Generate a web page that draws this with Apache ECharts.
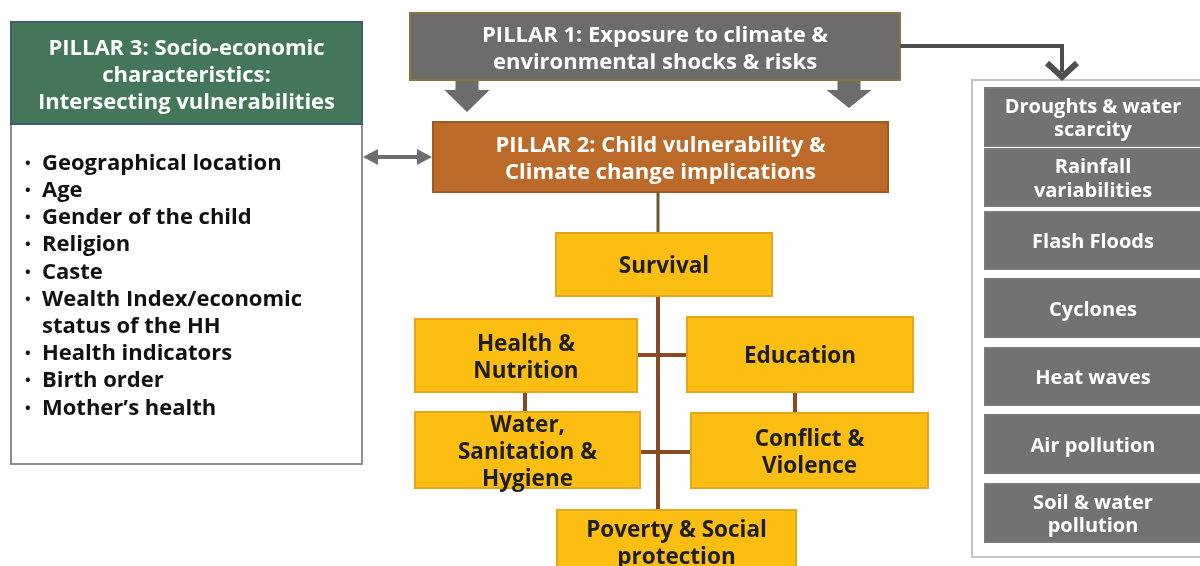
<!DOCTYPE html>
<html><head><meta charset="utf-8">
<script src="https://cdn.jsdelivr.net/npm/echarts@6/dist/echarts.min.js"></script>
<style>html,body{margin:0;padding:0;background:#fff}#c{width:1200px;height:566px}</style>
</head><body><div id="c"></div>
<script>
// ---- text content (data) ----
const pillarTitles = [
  'PILLAR 1: Exposure to climate &\nenvironmental shocks & risks',
  'PILLAR 2: Child vulnerability &\nClimate change implications',
  'PILLAR 3: Socio-economic\ncharacteristics:\nIntersecting vulnerabilities'
];
const socioFactors = ['Geographical location','Age','Gender of the child','Religion','Caste',
  'Wealth Index/economic\nstatus of the HH','Health indicators','Birth order','Mother\u2019s health'];
const childDomains = ['Survival','Health &\nNutrition','Education','Water,\nSanitation &\nHygiene','Conflict &\nViolence','Poverty & Social\nprotection'];
const hazards = ['Droughts & water\nscarcity','Rainfall\nvariabilities','Flash Floods','Cyclones','Heat waves','Air pollution','Soil & water\npollution'];

// ---- layout (diagram space, same units as canvas) ----
const pillarLayout = [[410,13,490,67],[433,122,455,70],[11,22,351,102]];
const pillarFill = ['#6E6B6B','#BC6A29','#44765A'];
const pillarStroke = ['#8A7642','#A35B24','#3E5E78'];
const domainLayout = [[556,233,216,63],[415,319,222,73],[687,317,226,75],[415,412,225,76],[691,413,237,75],[557,510,239,64]];
const hazardTop = [88,149,212,279,348,415,484];
const hazardBottom = [146,206,269,337,405,473,542];
const connectors = [[658,296,658,510],[637,355,687,355],[640,452,691,452],[525,392,525,412],[795,392,795,413]];

const FONT = '"Open Sans", "Noto Sans", sans-serif';

function boxRender(labels, fills, strokes, textFill, size, lh, dy) {
  return function (params, api) {
    const x = api.value(0), y = api.value(1), w = api.value(2), h = api.value(3);
    const p1 = api.coord([x, y]), p2 = api.coord([x + w, y + h]);
    const left = Math.min(p1[0], p2[0]), top = Math.min(p1[1], p2[1]);
    const width = Math.abs(p2[0] - p1[0]), height = Math.abs(p2[1] - p1[1]);
    const i = params.dataIndex;
    return {
      type: 'group',
      children: [
        { type: 'rect', shape: { x: left, y: top, width: width, height: height },
          style: { fill: Array.isArray(fills) ? fills[i] : fills, stroke: Array.isArray(strokes) ? strokes[i] : strokes, lineWidth: 2 } },
        { type: 'text', style: { text: labels[i], x: left + width / 2, y: top + height / 2 + (dy || 0),
          align: 'center', verticalAlign: 'middle', fill: textFill,
          font: 'bold ' + size + 'px ' + FONT, lineHeight: lh } }
      ]
    };
  };
}

// bullet lines
const bulletLines = [];
socioFactors.forEach(function (f) {
  f.split('\n').forEach(function (t, k) { bulletLines.push({ text: t, bullet: k === 0 }); });
});

function lineRender(color, width) {
  return function (params, api) {
    const a = api.coord([api.value(0), api.value(1)]), b = api.coord([api.value(2), api.value(3)]);
    return { type: 'line', shape: { x1: a[0], y1: a[1], x2: b[0], y2: b[1] }, style: { stroke: color, lineWidth: width } };
  };
}

const chart = echarts.init(document.getElementById('c'));
chart.setOption({
  animation: false,
  grid: { left: 0, right: 0, top: 0, bottom: 0, containLabel: false },
  xAxis: { type: 'value', min: 0, max: 1200, show: false },
  yAxis: { type: 'value', min: 0, max: 566, inverse: true, show: false },
  series: [
    // right panel frame
    { type: 'custom', data: [[972, 80, 240, 477]], renderItem: boxRender([''], '#FFFFFF', '#C4C4C4', '#fff', 10, 10) },
    // pillar 3 body
    { type: 'custom', data: [[11, 124, 351, 340]], renderItem: boxRender([''], '#FFFFFF', '#8E8E8E', '#fff', 10, 10) },
    // pillars
    { type: 'custom', data: pillarLayout, renderItem: boxRender(pillarTitles, pillarFill, pillarStroke, '#FFFFFF', 22, 27, 2.5) },
    // hazards
    { type: 'custom', data: hazards.map(function (h, i) { return [985, hazardTop[i], 216, hazardBottom[i] - hazardTop[i]]; }),
      renderItem: boxRender(hazards, '#727272', '#7A7A7A', '#FFFFFF', 20, 23.5, 2) },
    // brown connectors
    { type: 'custom', data: connectors, renderItem: lineRender('#8A4B22', 4) },
    { type: 'custom', data: [[658, 192, 658, 233]], renderItem: lineRender('#6E5A2C', 3) },
    // domains
    { type: 'custom', data: domainLayout, renderItem: boxRender(childDomains, '#FCBE12', '#E0A81A', '#1E1E1E', 22.5, 27, 2.5) },
    // bullet list
    { type: 'custom', data: bulletLines.map(function (b, i) { return [42, 163.5 + i * 27.2]; }),
      renderItem: function (params, api) {
        const p = api.coord([api.value(0), api.value(1)]);
        const b = bulletLines[params.dataIndex];
        const ch = [{ type: 'text', style: { text: b.text, x: p[0], y: p[1], align: 'left', verticalAlign: 'middle', fill: '#111', font: 'bold 22px ' + FONT } }];
        if (b.bullet) ch.push({ type: 'text', style: { text: '\u2022', x: p[0] - 17, y: p[1], align: 'left', verticalAlign: 'middle', fill: '#111', font: 'bold 15px ' + FONT } });
        return { type: 'group', children: ch };
      } },
    // down block arrows from pillar 1
    { type: 'custom', data: [[467, 81, 112], [849, 81, 108]],
      renderItem: function (params, api) {
        const cx = api.value(0), y0 = api.value(1), tip = api.value(2);
        const pts = [[cx - 11.5, y0], [cx + 11.5, y0], [cx + 11.5, y0 + 9], [cx + 22.5, y0 + 9], [cx, tip], [cx - 22.5, y0 + 9], [cx - 11.5, y0 + 9]];
        return { type: 'polygon', shape: { points: pts.map(function (q) { return api.coord(q); }) }, style: { fill: '#6E6B6B' } };
      } },
    // double arrow pillar3 <-> pillar2
    { type: 'custom', data: [[363, 157, 432]],
      renderItem: function (params, api) {
        const x1 = api.value(0), y = api.value(1), x2 = api.value(2);
        const c = function (q) { return api.coord(q); };
        return { type: 'group', children: [
          { type: 'line', shape: { x1: c([x1 + 12, y])[0], y1: c([x1, y])[1], x2: c([x2 - 12, y])[0], y2: c([x2, y])[1] }, style: { stroke: '#6E6E6E', lineWidth: 4 } },
          { type: 'polygon', shape: { points: [c([x1, y]), c([x1 + 15, y - 8]), c([x1 + 15, y + 8])] }, style: { fill: '#6E6E6E' } },
          { type: 'polygon', shape: { points: [c([x2, y]), c([x2 - 15, y - 8]), c([x2 - 15, y + 8])] }, style: { fill: '#6E6E6E' } }
        ] };
      } },
    // elbow connector pillar1 -> hazards
    { type: 'custom', data: [[900, 46, 1062, 66]],
      renderItem: function (params, api) {
        const x1 = api.value(0), y1 = api.value(1), x2 = api.value(2), y2 = api.value(3);
        const c = function (q) { return api.coord(q); };
        return { type: 'group', children: [
          { type: 'polyline', shape: { points: [c([x1, y1]), c([x2, y1]), c([x2, y2 + 6])] }, style: { stroke: '#4F4F4F', lineWidth: 4, fill: null } },
          { type: 'polyline', shape: { points: [c([x2 - 15, y2 - 3]), c([x2, y2 + 11]), c([x2 + 15, y2 - 3])] }, style: { stroke: '#4F4F4F', lineWidth: 6, fill: null, lineJoin: 'miter' } }
        ] };
      } }
  ]
});
</script></body></html>
